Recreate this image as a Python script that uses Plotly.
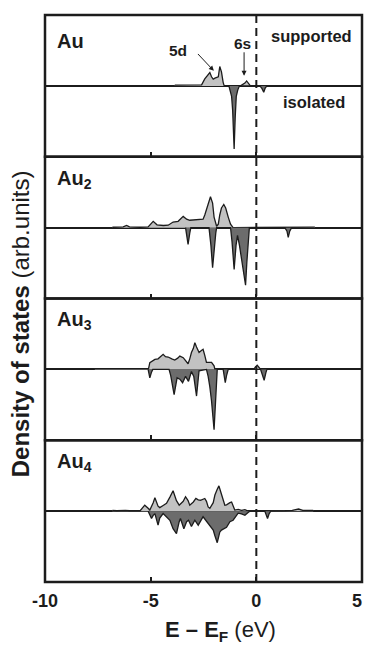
import plotly.graph_objects as go
from plotly.subplots import make_subplots

# ---------------- data (E - EF in eV, DOS in arb. units) ----------------
au1_sup_x = [-3.86, -2.59, -2.44, -2.28, -2.20, -2.12, -2.04, -1.96, -1.88, -1.80, -1.73, -1.65, -1.57, -1.52,
             -0.75, -0.70, -0.54, -0.46, -0.39, -0.28]
au1_sup_y = [0.1, 0.15, 1.0, 1.6, 1.9, 1.3, 0.95, 1.1, 1.2, 1.3, 2.76, 2.0, 0.5, 0.0,
             0.0, 0.1, 0.4, 0.7, 0.4, 0.0]
au1_iso_x = [-1.30, -1.25, -1.17, -1.12, -1.05, -1.00, -0.95, -0.88, -0.80, 0.17, 0.27, 0.35, 0.42, 0.50]
au1_iso_y = [0.0, -0.8, -1.5, -3.5, -9.0, -4.5, -1.5, -0.6, 0.0, 0.0, -0.4, -0.9, -0.3, 0.0]

au2_sup_x = [-6.81, -6.40, -6.30, -6.14, -6.00, -5.50, -5.12, -4.88, -4.70, -4.40, -4.17, -3.94, -3.70, -3.46,
             -3.30, -3.15, -2.90, -2.67, -2.52, -2.44, -2.32, -2.17, -2.07, -2.00, -1.88, -1.80, -1.73, -1.65,
             -1.54, -1.45, -1.33, -1.22, -1.10, 0.95, 1.19, 1.90, 2.77]
au2_sup_y = [0.05, 0.05, 0.1, 0.3, 0.1, 0.05, 0.1, 0.9, 0.4, 0.3, 0.35, 0.8, 0.9, 1.6,
             1.2, 1.05, 1.1, 1.15, 1.2, 1.8, 3.0, 4.4, 3.5, 1.5, 0.2, 0.5, 1.8, 2.8,
             3.3, 2.8, 1.5, 0.5, 0.0, 0.08, 0.08, 0.08, 0.08]
au2_iso_x = [-3.35, -3.30, -3.23, -3.15, -3.10, -2.24, -2.15, -2.07, -2.00, -1.92, -1.88,
             -1.22, -1.15, -1.05, -0.96, -0.89, -0.80, -0.70, -0.56, -0.51, -0.45, -0.39, -0.33,
             1.35, 1.45, 1.51, 1.58, 1.67]
au2_iso_y = [0.0, -0.8, -2.4, -0.8, 0.0, 0.0, -2.5, -5.7, -3.0, -0.8, 0.0,
             0.0, -2.0, -5.95, -2.5, -1.1, -2.5, -4.5, -7.0, -8.2, -5.0, -2.0, 0.0,
             0.0, -0.5, -1.4, -0.5, 0.0]

au3_sup_x = [-7.64, -6.85, -5.91, -5.10, -5.04, -4.96, -4.80, -4.65, -4.41, -4.30, -4.17, -4.00, -3.86, -3.72,
             -3.62, -3.46, -3.35, -3.23, -3.15, -3.07, -2.98, -2.91, -2.83, -2.71, -2.60, -2.52, -2.44,
             -2.36, -2.12, -2.00, -1.96, -0.12, -0.05, 0.04, 0.12, 0.20]
au3_sup_y = [0.1, 0.1, 0.1, 0.1, 0.95, 1.1, 1.43, 1.5, 2.14, 1.8, 1.76, 1.5, 1.33, 1.6,
             1.9, 1.67, 1.3, 0.8, 1.5, 2.4, 3.0, 3.8, 3.2, 2.4, 2.7, 2.86, 2.0,
             1.0, 1.0, 0.5, 0.0, 0.0, 0.3, 0.6, 0.3, 0.0]
au3_iso_x = [-5.12, -5.04, -4.96, -4.90, -4.13, -4.05, -3.89, -3.75, -3.62, -3.49, -3.35, -3.21, -3.07,
             -2.96, -2.83, -2.75, -2.71, -2.36, -2.28, -2.20, -2.12, -2.00, -1.92, -1.85,
             -1.57, -1.52, -1.47, -1.41, -1.33, 0.20, 0.28, 0.37, 0.45, 0.50]
au3_iso_y = [0.0, -1.2, -0.4, 0.0, 0.0, -0.9, -3.6, -1.2, -1.4, -1.9, -1.0, -1.7, -0.3,
             -1.0, -3.8, -1.0, -0.2, 0.0, -1.0, -2.5, -4.5, -8.6, -3.5, 0.0,
             0.0, -1.0, -1.9, -0.9, 0.0, 0.0, -0.7, -1.55, -0.5, 0.0]

au4_sup_x = [-6.81, -6.60, -6.20, -6.00, -5.50, -5.28, -5.12, -5.04, -4.88, -4.80, -4.65, -4.57, -4.41, -4.25,
             -4.09, -3.94, -3.78, -3.65, -3.46, -3.35, -3.23, -3.15, -2.98, -2.86, -2.75, -2.64, -2.44,
             -2.36, -2.28, -2.20, -2.04, -1.96, -1.85, -1.77, -1.69, -1.57, -1.49, -1.41, -1.33, -1.25,
             -1.17, -1.10, -1.02, -0.86, -0.70, -0.54, -0.39, 1.35, 1.70, 2.00, 2.20, 2.69]
au4_sup_y = [0.1, 0.05, 0.1, 0.05, 0.05, 0.85, 0.4, 0.15, 1.2, 1.9, 0.7, 0.5, 0.8, 1.1,
             2.0, 2.9, 1.5, 0.85, 1.4, 2.05, 1.5, 0.85, 1.3, 1.8, 1.6, 1.55, 1.8,
             1.4, 0.6, 0.4, 1.2, 2.3, 3.1, 3.6, 2.8, 1.4, 0.85, 0.9, 1.1, 1.2,
             1.3, 0.6, 0.15, 0.25, 0.1, 0.2, 0.0, 0.05, 0.1, 0.3, 0.1, 0.1]
au4_iso_x = [-5.12, -4.96, -4.88, -4.80, -4.65, -4.57, -4.41, -4.25, -4.09, -3.94, -3.78, -3.65, -3.59,
             -3.43, -3.30, -3.21, -3.07, -2.91, -2.75, -2.52, -2.28, -2.04, -1.96, -1.85, -1.73, -1.65,
             -1.41, -1.25, -1.10, -0.94, -0.86, -0.70, -0.54, -0.39, -0.31, 0.40, 0.48, 0.53, 0.60, 0.68]
au4_iso_y = [0.0, -1.05, -0.6, -0.35, -2.0, -1.0, -0.35, -0.9, -1.3, -2.5, -3.2, -1.5, -1.05,
             -2.5, -1.5, -1.3, -2.2, -1.3, -2.0, -0.8, -1.8, -2.7, -3.5, -4.5, -3.0, -2.7,
             -2.3, -1.5, -1.3, -0.7, -0.3, -0.4, -0.6, -0.2, 0.0, 0.0, -0.6, -1.05, -0.4, 0.0]

panels = [
    ("<b>Au</b>", au1_sup_x, au1_sup_y, au1_iso_x, au1_iso_y),
    ("<b>Au<sub>2</sub></b>", au2_sup_x, au2_sup_y, au2_iso_x, au2_iso_y),
    ("<b>Au<sub>3</sub></b>", au3_sup_x, au3_sup_y, au3_iso_x, au3_iso_y),
    ("<b>Au<sub>4</sub></b>", au4_sup_x, au4_sup_y, au4_iso_x, au4_iso_y),
]
x_ticks = [-10, -5, 0, 5]
x_tick_text = ["-10", "-5", "0", "5\u00a0\u00a0"]

FONT = "Liberation Sans, Arial, sans-serif"
INK = "#1c1c1c"
SUP_FILL = "#c2c2c2"
ISO_FILL = "#6c6c6c"

fig = make_subplots(rows=4, cols=1, shared_xaxes=True, vertical_spacing=0)

for i, (label, sx, sy, ix, iy) in enumerate(panels, start=1):
    fig.add_trace(go.Scatter(x=sx, y=sy, mode="lines", fill="tozeroy", fillcolor=SUP_FILL,
                             line=dict(color=INK, width=1.3), showlegend=False, hoverinfo="skip"),
                  row=i, col=1)
    fig.add_trace(go.Scatter(x=ix, y=iy, mode="lines", fill="tozeroy", fillcolor=ISO_FILL,
                             line=dict(color=INK, width=1.3), showlegend=False, hoverinfo="skip"),
                  row=i, col=1)
    fig.update_xaxes(range=[-10, 5], showline=False, automargin=False, ticklabeloverflow="allow",
                     ticks="inside", tickvals=x_ticks, ticktext=x_tick_text, ticklen=5, tickwidth=2,
                     tickcolor=INK, showgrid=False, zeroline=False, row=i, col=1)
    fig.update_yaxes(range=[-10.1, 10.1], showline=False, automargin=False,
                     showticklabels=False, ticks="", showgrid=False,
                     zeroline=True, zerolinecolor=INK, zerolinewidth=1.5, row=i, col=1)
    sfx = "" if i == 1 else str(i)
    fig.add_shape(type="rect", xref=f"x{sfx} domain", yref=f"y{sfx} domain",
                  x0=0, x1=1, y0=0, y1=1, line=dict(color=INK, width=2.5), layer="above")
    fig.add_annotation(x=-9.55, y=6.4 if i == 1 else 6.9, xref=f"x{sfx}", yref=f"y{sfx}", text=label,
                       showarrow=False, xanchor="left", yanchor="middle",
                       font=dict(family=FONT, size=20, color=INK))

fig.update_xaxes(tickfont=dict(family=FONT, size=18, color=INK, weight="bold"),
                 ticklabelstandoff=6, row=4, col=1)

# text labels in top panel
fig.add_annotation(x=2.63, y=7.1, xref="x", yref="y", text="<b>supported</b>", showarrow=False,
                   xanchor="center", yanchor="middle", font=dict(family=FONT, size=16.5, color=INK))
fig.add_annotation(x=2.72, y=-2.3, xref="x", yref="y", text="<b>isolated</b>", showarrow=False,
                   xanchor="center", yanchor="middle", font=dict(family=FONT, size=16.5, color=INK))
fig.add_annotation(x=-3.72, y=5.1, xref="x", yref="y", text="<b>5d</b>", showarrow=False,
                   xanchor="center", yanchor="middle", font=dict(family=FONT, size=15.5, color=INK))
fig.add_annotation(x=-0.64, y=6.0, xref="x", yref="y", text="<b>6s</b>", showarrow=False,
                   xanchor="center", yanchor="middle", font=dict(family=FONT, size=15.5, color=INK))
# arrows
fig.add_annotation(x=-2.01, y=2.14, ax=-2.83, ay=4.76, xref="x", yref="y", axref="x", ayref="y",
                   text="", showarrow=True, arrowhead=2, arrowsize=1, arrowwidth=1, arrowcolor=INK)
fig.add_annotation(x=-0.58, y=1.43, ax=-0.58, ay=5.0, xref="x", yref="y", axref="x", ayref="y",
                   text="", showarrow=True, arrowhead=2, arrowsize=1, arrowwidth=1, arrowcolor=INK)

# Fermi level dashed line
fig.add_shape(type="line", xref="x", yref="paper", x0=0, x1=0, y0=0, y1=1,
              line=dict(color=INK, width=2, dash="8px,5px"))

# axis titles
fig.add_annotation(x=-0.078, y=0.455, xref="paper", yref="paper", textangle=-90,
                   xanchor="center", yanchor="middle",
                   text="<b>Density of states</b> (arb.units)", showarrow=False,
                   font=dict(family=FONT, size=24, color=INK))
fig.add_annotation(x=0.553, y=-0.087, xref="paper", yref="paper",
                   xanchor="center", yanchor="middle",
                   text="<b>E \u2013 E<sub>F</sub></b> (eV)", showarrow=False,
                   font=dict(family=FONT, size=22, color=INK))

fig.update_layout(width=365, height=646, margin=dict(l=45, r=3, t=15, b=64, autoexpand=False),
                  paper_bgcolor="white", plot_bgcolor="white")

fig.write_html("out.html", config={"displayModeBar": False},
               post_script="document.body.style.margin='0';document.body.style.overflow='hidden';")
